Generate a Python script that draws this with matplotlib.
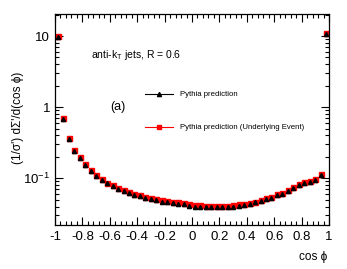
import numpy as np
import matplotlib
matplotlib.use("Agg")
import matplotlib.pyplot as plt
from matplotlib.ticker import FixedLocator, MultipleLocator, LogLocator, NullFormatter, FixedFormatter

plt.rcParams['font.family'] = ['Liberation Sans', 'DejaVu Sans']
plt.rcParams['mathtext.fontset'] = 'custom'
plt.rcParams['mathtext.rm'] = 'Liberation Sans'
plt.rcParams['mathtext.it'] = 'Liberation Sans'
plt.rcParams['mathtext.default'] = 'regular'

# bin centres of cos(phi): -0.98 ... 0.98 in steps of 0.04
cos_phi = np.round(np.linspace(-0.98, 0.98, 50), 2)

pythia = [9.8, 0.68, 0.36, 0.243, 0.19, 0.152, 0.126, 0.108, 0.095, 0.085,
          0.078, 0.071, 0.066, 0.062, 0.058, 0.056, 0.053, 0.051, 0.049, 0.047,
          0.046, 0.045, 0.044, 0.043, 0.041, 0.040, 0.040, 0.039, 0.039, 0.039,
          0.039, 0.039, 0.040, 0.041, 0.042, 0.044, 0.046, 0.048, 0.051, 0.053,
          0.058, 0.061, 0.066, 0.073, 0.080, 0.086, 0.088, 0.093, 0.110, 10.8]
pythia_ue = [10.0, 0.70, 0.37, 0.25, 0.196, 0.157, 0.130, 0.111, 0.098, 0.087,
             0.080, 0.073, 0.068, 0.0635, 0.060, 0.058, 0.055, 0.053, 0.051, 0.049,
             0.048, 0.047, 0.046, 0.045, 0.043, 0.042, 0.042, 0.041, 0.041, 0.041,
             0.041, 0.041, 0.042, 0.043, 0.044, 0.045, 0.047, 0.050, 0.053, 0.055,
             0.060, 0.063, 0.068, 0.075, 0.082, 0.089, 0.091, 0.096, 0.113, 11.0]

x_ticks = [-1, -0.8, -0.6, -0.4, -0.2, 0, 0.2, 0.4, 0.6, 0.8, 1]
x_ticklabels = ['-1', '-0.8', '-0.6', '-0.4', '-0.2', '0', '0.2', '0.4', '0.6', '0.8', '1']
y_ticks = [0.1, 1, 10]
y_ticklabels = ['$10^{-1}$', '1', '10']

fig = plt.figure(figsize=(3.47, 2.69), dpi=100)
ax = fig.add_axes([55/347, 1-225/269, (329-55)/347, (225-14)/269])

ax.plot(cos_phi, pythia_ue, linestyle='none', marker='s', ms=3.6, color='#ff0000',
        mec='#ff0000')
ax.plot(cos_phi, pythia, linestyle='none', marker='^', ms=3.0, color='black')

ax.set_yscale('log')
ax.set_xlim(-1, 1)
ax.set_ylim(0.022, 20.4)

ax.xaxis.set_major_locator(FixedLocator(x_ticks))
ax.xaxis.set_major_formatter(FixedFormatter(x_ticklabels))
ax.xaxis.set_minor_locator(MultipleLocator(0.04))
ax.yaxis.set_major_locator(FixedLocator(y_ticks))
ax.yaxis.set_major_formatter(FixedFormatter(y_ticklabels))
ax.yaxis.set_minor_locator(LogLocator(base=10, subs=np.arange(2, 10)))
ax.yaxis.set_minor_formatter(NullFormatter())

ax.tick_params(which='both', direction='in', top=True, right=True, width=0.8,
               labelsize=9.5, colors='black')
ax.tick_params(which='major', length=6)
ax.tick_params(which='minor', length=3)
ax.tick_params(axis='x', pad=4)
for s in ax.spines.values():
    s.set_linewidth(0.9)

fig.text(18/347, 1-118/269, "(1/σ') dΣ'/d(cos ϕ)", rotation=90, ha='center', va='center',
         fontsize=8.5)
fig.text(327/347, 1-257/269, "cos ϕ", ha='right', va='center', fontsize=8.5)

fig.text(91/347, 1-55/269, "anti-k$_{T}$ jets, R = 0.6", ha='left', va='center', fontsize=7.5)
fig.text(110/347, 1-107/269, "(a)", ha='left', va='center', fontsize=9)

# legend
fig.lines.append(plt.Line2D([145/347, 173/347], [1-94/269, 1-94/269], color='black', lw=0.8,
                            transform=fig.transFigure))
fig.lines.append(plt.Line2D([159/347], [1-94/269], marker='^', ms=3, color='black',
                            transform=fig.transFigure))
fig.lines.append(plt.Line2D([145/347, 173/347], [1-127/269, 1-127/269], color='#ff0000', lw=0.8,
                            transform=fig.transFigure))
fig.lines.append(plt.Line2D([159/347], [1-127/269], marker='s', ms=3, color='#ff0000',
                            transform=fig.transFigure))
fig.text(180/347, 1-94/269, "Pythia prediction", ha='left', va='center', fontsize=5.6)
fig.text(180/347, 1-127/269, "Pythia prediction (Underlying Event)", ha='left', va='center',
         fontsize=5.6)

fig.savefig("out.png", dpi=100)
